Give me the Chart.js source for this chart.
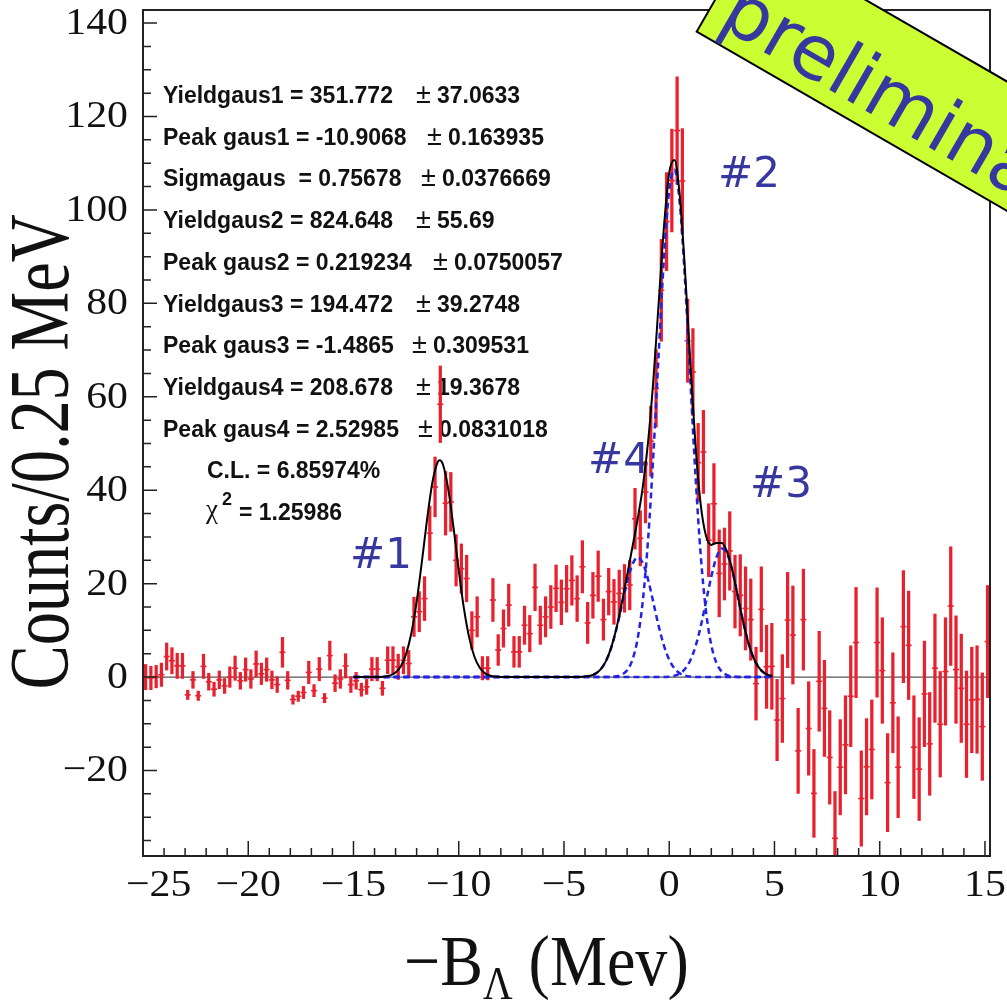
<!DOCTYPE html>
<html>
<head>
<meta charset="utf-8">
<script src="https://cdn.jsdelivr.net/npm/chart.js@4.4.1/dist/chart.umd.min.js"></script>
<style>
  body { margin: 0; background: #fff; }
  canvas { display: block; }
</style>
</head>
<body>
<canvas id="spectrum" width="1007" height="1005"></canvas>
<script>
// histogram bins (MeV), counts per 0.25 MeV and their errors
const binCenters = [
  -24.875, -24.625, -24.375, -24.125, -23.875, -23.625, -23.375, -23.125, -22.875, -22.625,
  -22.375, -22.125, -21.875, -21.625, -21.375, -21.125, -20.875, -20.625, -20.375, -20.125,
  -19.875, -19.625, -19.375, -19.125, -18.875, -18.625, -18.375, -18.125, -17.875, -17.625,
  -17.375, -17.125, -16.875, -16.625, -16.375, -16.125, -15.875, -15.625, -15.375, -15.125,
  -14.875, -14.625, -14.375, -14.125, -13.875, -13.625, -13.375, -13.125, -12.875, -12.625,
  -12.375, -12.125, -11.875, -11.625, -11.375, -11.125, -10.875, -10.625, -10.375, -10.125,
  -9.875, -9.625, -9.375, -9.125, -8.875, -8.625, -8.375, -8.125, -7.875, -7.625,
  -7.375, -7.125, -6.875, -6.625, -6.375, -6.125, -5.875, -5.625, -5.375, -5.125,
  -4.875, -4.625, -4.375, -4.125, -3.875, -3.625, -3.375, -3.125, -2.875, -2.625,
  -2.375, -2.125, -1.875, -1.625, -1.375, -1.125, -0.875, -0.625, -0.375, -0.125,
  0.125, 0.375, 0.625, 0.875, 1.125, 1.375, 1.625, 1.875, 2.125, 2.375,
  2.625, 2.875, 3.125, 3.375, 3.625, 3.875, 4.125, 4.375, 4.625, 4.875,
  5.125, 5.375, 5.625, 5.875, 6.125, 6.375, 6.625, 6.875, 7.125, 7.375,
  7.625, 7.875, 8.125, 8.375, 8.625, 8.875, 9.125, 9.375, 9.625, 9.875,
  10.125, 10.375, 10.625, 10.875, 11.125, 11.375, 11.625, 11.875, 12.125, 12.375,
  12.625, 12.875, 13.125, 13.375, 13.625, 13.875, 14.125, 14.375, 14.625, 14.875,
  15.125
];
const counts = [
  0.0, -0.2, 0.1, 0.5, 4.4, 3.5, 2.4, 2.4, -3.8, -0.6,
  -4.0, 2.3, -1.0, -2.6, -0.6, -1.9, 0.0, 1.9, -0.8, 1.6,
  -0.4, 2.8, 0.7, 1.6, -0.6, -1.6, 5.3, -0.7, -4.8, -4.1,
  -3.3, 1.0, -2.9, 1.7, -4.5, 4.6, -1.3, -0.4, 2.4, -1.6,
  -0.8, -2.7, -2.1, 1.7, 1.7, -2.4, 3.6, 3.6, 2.2, 3.6,
  2.9, 12.9, 14.0, 16.8, 30.8, 40.7, 58.4, 37.2, 37.5, 25.0,
  23.2, 21.1, 10.0, 12.9, 1.9, 1.9, 16.5, 5.8, 10.4, 15.4,
  5.4, 5.4, 11.1, 9.3, 19.2, 11.1, 12.9, 15.0, 19.0, 16.0,
  18.9, 20.7, 16.8, 23.6, 11.6, 17.5, 21.6, 12.3, 18.3, 16.1,
  17.9, 19.0, 19.7, 33.9, 29.7, 39.6, 50.5, 61.8, 82.8, 97.5,
  106.3, 117.0, 106.2, 72.0, 65.3, 45.9, 48.2, 29.3, 37.1, 22.2,
  24.2, 27.0, 18.3, 17.5, 14.7, 12.3, -1.4, 14.5, 2.2, 2.3,
  -9.2, -4.6, 12.2, 9.0, -15.8, 12.3, -11.0, -24.9, -0.9, -6.7,
  -17.2, -34.5, -19.3, -14.5, -4.1, 7.4, -26.0, -19.2, -15.5, 7.4,
  1.4, -22.6, -5.5, -19.3, 10.8, 6.8, -15.0, -19.7, -3.6, -14.3,
  1.9, -10.1, 1.2, 15.2, 1.6, -2.4, -10.1, -4.9, -4.8, -10.6,
  7.6
];
const errors = [
  2.7, 2.5, 2.4, 2.5, 2.9, 2.8, 2.7, 2.7, 1.0, 1.8,
  1.0, 2.6, 1.8, 1.5, 1.9, 1.6, 2.2, 2.6, 1.8, 2.5,
  2.0, 2.8, 2.3, 2.5, 1.9, 1.7, 3.2, 1.9, 1.0, 1.1,
  1.3, 2.4, 1.3, 2.5, 1.0, 3.1, 1.8, 2.0, 2.6, 1.7,
  1.8, 1.4, 1.6, 2.5, 2.5, 1.5, 2.9, 2.9, 2.7, 2.9,
  2.8, 4.2, 4.3, 4.7, 5.8, 6.4, 8.2, 6.8, 6.3, 5.5,
  5.3, 5.0, 4.0, 4.3, 2.5, 2.5, 4.6, 3.3, 4.0, 4.5,
  3.3, 3.3, 4.1, 3.9, 5.0, 4.1, 4.3, 4.6, 5.0, 4.8,
  5.0, 5.3, 4.9, 5.6, 4.4, 4.9, 5.4, 4.4, 5.0, 4.8,
  5.0, 5.1, 5.3, 6.5, 5.9, 6.6, 7.5, 8.3, 10.9, 10.5,
  11.0, 11.5, 11.2, 8.9, 9.3, 8.4, 8.9, 7.8, 8.6, 9.3,
  7.7, 8.4, 7.8, 8.7, 8.9, 8.7, 7.8, 9.1, 8.9, 9.2,
  8.7, 9.4, 10.2, 10.5, 9.1, 10.8, 10.0, 9.4, 10.7, 10.3,
  10.0, 10.0, 10.2, 10.5, 10.8, 11.8, 10.2, 10.3, 10.6, 11.7,
  11.3, 10.5, 10.7, 10.8, 12.0, 11.6, 11.0, 11.0, 11.3, 11.0,
  11.6, 11.3, 11.5, 12.7, 11.5, 11.6, 11.4, 11.3, 11.5, 11.5,
  12.0
];

// fitted curve (total)
const totalX = [
  -15, -14, -13.5, -13.25, -13, -12.75, -12.5, -12.25, -12, -11.75,
  -11.5, -11.25, -11, -10.9, -10.75, -10.5, -10.25, -10, -9.75, -9.5,
  -9.25, -9, -8.75, -8.5, -8.25, -8, -6, -4.5, -4.25, -4,
  -3.75, -3.5, -3.25, -3, -2.75, -2.5, -2.25, -2, -1.75, -1.5,
  -1.25, -1, -0.75, -0.5, -0.25, 0, 0.25, 0.5, 0.75, 1,
  1.25, 1.5, 1.75, 2, 2.25, 2.5, 2.75, 3, 3.25, 3.5,
  3.75, 4, 4.25, 4.5, 4.75, 4.9
];
const totalFit = [
  0, 0, 0.13, 0.37, 0.99, 2.34, 4.97, 9.45, 16.1, 24.7,
  33.9, 41.7, 46.0, 46.4, 45.5, 40.3, 32.1, 22.9, 14.6, 8.4,
  4.3, 2.0, 0.8, 0.3, 0.1, 0.03, 0, 0.01, 0.04, 0.10,
  0.29, 0.74, 1.70, 3.48, 6.41, 10.62, 15.93, 21.83, 27.78, 33.84,
  40.9, 50.5, 63.8, 80.1, 96.4, 108.0, 110.7, 103.1, 87.1, 67.5,
  49.6, 36.8, 30.2, 28.3, 28.7, 28.7, 26.8, 22.8, 17.5, 12.1,
  7.5, 4.17, 2.08, 0.93, 0.37, 0.17
];

// the three component gaussians of the right-hand group (dashed)
const compX = [
  -15, -10, -6, -4.5, -4.25, -4, -3.75, -3.5, -3.25, -3,
  -2.75, -2.5, -2.25, -2, -1.75, -1.5, -1.25, -1, -0.75, -0.5,
  -0.25, 0, 0.25, 0.5, 0.75, 1, 1.25, 1.5, 1.75, 2,
  2.25, 2.5, 2.75, 3, 3.25, 3.5, 3.75, 4, 4.25, 4.5,
  4.75, 4.9
];
const gaus2 = [
  0, 0, 0, 0, 0, 0, 0, 0, 0, 0.01,
  0.05, 0.17, 0.53, 1.48, 3.68, 8.24, 16.5, 29.7, 47.9, 69.2,
  89.7, 104.2, 108.6, 101.5, 85.0, 63.8, 43.0, 25.9, 14.0, 6.82,
  2.97, 1.16, 0.41, 0.13, 0.04, 0.01, 0, 0, 0, 0,
  0, 0
];
const gaus3 = [
  0, 0, 0, 0.01, 0.04, 0.10, 0.29, 0.74, 1.70, 3.47,
  6.36, 10.45, 15.4, 20.35, 24.1, 25.6, 24.4, 20.8, 15.9, 10.9,
  6.73, 3.71, 1.84, 0.82, 0.32, 0.12, 0.04, 0.01, 0, 0,
  0, 0, 0, 0, 0, 0, 0, 0, 0, 0,
  0, 0
];
const gaus4 = [
  0, 0, 0, 0, 0, 0, 0, 0, 0, 0,
  0, 0, 0, 0, 0, 0, 0, 0, 0, 0,
  0, 0.10, 0.29, 0.75, 1.73, 3.56, 6.58, 10.9, 16.2, 21.5,
  25.7, 27.5, 26.4, 22.7, 17.5, 12.1, 7.5, 4.17, 2.08, 0.93,
  0.37, 0.17
];

const xTicks = [-25, -20, -15, -10, -5, 0, 5, 10, 15];
const yTicks = [-20, 0, 20, 40, 60, 80, 100, 120, 140];

const fitParams = [
  ['Yieldgaus1 = 351.772', '37.0633'],
  ['Peak gaus1 = -10.9068', '0.163935'],
  ['Sigmagaus  = 0.75678', '0.0376669'],
  ['Yieldgaus2 = 824.648', '55.69'],
  ['Peak gaus2 = 0.219234', '0.0750057'],
  ['Yieldgaus3 = 194.472', '39.2748'],
  ['Peak gaus3 = -1.4865', '0.309531'],
  ['Yieldgaus4 = 208.678', '19.3678'],
  ['Peak gaus4 = 2.52985', '0.0831018']
];
const confLevel = 'C.L. = 6.85974%';
const chi2 = '= 1.25986';
const peakNames = ['#1', '#2', '#3', '#4'];

// layout of the annotations (pixels)
const pmX = [416, 427, 421, 416, 433, 416, 412, 416, 418];
const peakNamePos = [[350, 568], [718, 187], [750, 497], [588, 473]];

const RED = '#e8212f';
const BLUE = 'rgb(35,35,230)';
const INK = 'rgb(55,55,160)';

function pts(xs, ys) {
  return xs.map((x, i) => ({ x: x, y: ys[i] }));
}

function minusLabel(v) {
  return v < 0 ? '\u2212' + Math.abs(v) : String(v);
}

const rootStyle = {
  id: 'rootStyle',
  beforeDraw(chart) {
    const ctx = chart.ctx;
    ctx.save();
    ctx.fillStyle = '#fff';
    ctx.fillRect(0, 0, chart.width, chart.height);
    ctx.restore();
  },
  beforeDatasetsDraw(chart) {
    const ctx = chart.ctx;
    const area = chart.chartArea;
    const y = chart.scales.y;
    ctx.save();
    // zero line
    ctx.strokeStyle = '#555';
    ctx.lineWidth = 1.3;
    ctx.beginPath();
    ctx.moveTo(area.left, y.getPixelForValue(0));
    ctx.lineTo(area.right, y.getPixelForValue(0));
    ctx.stroke();

    // fit results
    ctx.fillStyle = '#111';
    ctx.textAlign = 'left';
    ctx.textBaseline = 'alphabetic';
    fitParams.forEach((p, i) => {
      const base = 103 + i * 41.7;
      ctx.font = 'bold 23px "Liberation Sans"';
      ctx.fillText(p[0], 163, base);
      ctx.font = '27px "Liberation Sans"';
      ctx.fillText('\u00b1', pmX[i], base);
      ctx.font = 'bold 23px "Liberation Sans"';
      ctx.fillText(p[1], pmX[i] + 21, base);
    });
    ctx.font = 'bold 23px "Liberation Sans"';
    ctx.fillText(confLevel, 207, 478);
    ctx.font = '27px "Liberation Serif"';
    ctx.fillText('\u03c7', 206, 518);
    ctx.font = 'bold 18px "Liberation Sans"';
    ctx.fillText('2', 222, 505);
    ctx.font = 'bold 23px "Liberation Sans"';
    ctx.fillText(chi2, 239, 520);

    // peak names
    ctx.fillStyle = INK;
    ctx.font = '42px "DejaVu Sans"';
    peakNames.forEach((n, i) => {
      ctx.fillText(n, peakNamePos[i][0], peakNamePos[i][1]);
    });
    ctx.restore();
  },
  afterDatasetsDraw(chart) {
    const ctx = chart.ctx;
    const area = chart.chartArea;
    const xs = chart.scales.x;
    const ys = chart.scales.y;
    ctx.save();

    // frame
    ctx.strokeStyle = '#222';
    ctx.lineWidth = 2;
    ctx.strokeRect(area.left, area.top, area.right - area.left, area.bottom - area.top);

    // ticks inside the frame
    ctx.lineWidth = 1.5;
    ctx.beginPath();
    for (let v = -25; v <= 15; v += 1) {
      const px = xs.getPixelForValue(v);
      const len = v % 5 === 0 ? 15 : 8;
      ctx.moveTo(px, area.bottom);
      ctx.lineTo(px, area.bottom - len);
    }
    for (let v = -35; v <= 140; v += 5) {
      const py = ys.getPixelForValue(v);
      const len = v % 20 === 0 ? 14 : 8;
      ctx.moveTo(area.left, py);
      ctx.lineTo(area.left + len, py);
    }
    ctx.stroke();

    // tick labels
    ctx.fillStyle = '#111';
    ctx.font = '38px "Liberation Serif"';
    ctx.textBaseline = 'middle';
    ys.ticks.forEach(t => {
      ctx.save();
      ctx.translate(128, ys.getPixelForValue(t.value) + 1);
      ctx.scale(1.1, 1);
      ctx.textAlign = 'right';
      ctx.fillText(minusLabel(t.value), 0, 0);
      ctx.restore();
    });
    xs.ticks.forEach(t => {
      const label = minusLabel(t.value);
      const w = ctx.measureText(label).width * 1.1;
      let px = xs.getPixelForValue(t.value);
      px = Math.max(px, 126 + w / 2);
      ctx.save();
      ctx.translate(px, 886);
      ctx.scale(1.1, 1);
      ctx.textAlign = 'center';
      ctx.fillText(label, 0, 0);
      ctx.restore();
    });

    // axis titles
    ctx.textBaseline = 'alphabetic';
    ctx.save();
    ctx.translate(68, 452);
    ctx.rotate(-Math.PI / 2);
    ctx.scale(0.78, 1);
    ctx.textAlign = 'center';
    ctx.font = '85px "Liberation Serif"';
    ctx.fillText('Counts/0.25 MeV', 0, 0);
    ctx.restore();

    ctx.save();
    ctx.translate(404, 985);
    ctx.scale(0.89, 1);
    ctx.textAlign = 'left';
    ctx.font = '72px "Liberation Serif"';
    ctx.fillText('\u2212B', 0, 0);
    let off = ctx.measureText('\u2212B').width;
    ctx.font = '46px "Liberation Serif"';
    ctx.fillText('\u039b', off, 14);
    off += ctx.measureText('\u039b').width;
    ctx.font = '72px "Liberation Serif"';
    ctx.fillText(' (Mev)', off, 0);
    ctx.restore();
    ctx.restore();
  },
  afterDraw(chart) {
    const ctx = chart.ctx;
    ctx.save();
    ctx.translate(696.7, 31.7);
    ctx.rotate(30 * Math.PI / 180);
    ctx.fillStyle = '#ccff33';
    ctx.fillRect(0, -112, 700, 112);
    ctx.strokeStyle = '#000';
    ctx.lineWidth = 2;
    ctx.strokeRect(0, -112, 700, 112);
    ctx.fillStyle = INK;
    ctx.font = '75px "DejaVu Sans"';
    ctx.textAlign = 'left';
    ctx.textBaseline = 'alphabetic';
    ctx.fillText('preliminary', 14, -16);
    ctx.restore();
  }
};

const curve = (xs, ys, color, dash, order) => ({
  type: 'line',
  data: pts(xs, ys),
  borderColor: color,
  borderWidth: dash ? 2.5 : 2,
  borderDash: dash ? [6, 4] : [],
  pointRadius: 0,
  cubicInterpolationMode: 'monotone',
  order: order
});

new Chart(document.getElementById('spectrum'), {
  type: 'scatter',
  data: {
    datasets: [
      curve(totalX, totalFit, '#000', false, 1),
      curve(compX, gaus2, BLUE, true, 2),
      curve(compX, gaus3, BLUE, true, 2),
      curve(compX, gaus4, BLUE, true, 2),
      {
        type: 'bar',
        data: binCenters.map((x, i) => ({ x: x, y: [counts[i] - errors[i], counts[i] + errors[i]] })),
        backgroundColor: RED,
        borderWidth: 0,
        barThickness: 2.6,
        order: 6
      },
      {
        type: 'scatter',
        data: pts(binCenters, counts),
        pointStyle: 'line',
        pointRadius: 3,
        borderColor: RED,
        borderWidth: 1.6,
        order: 5
      }
    ]
  },
  options: {
    responsive: false,
    animation: false,
    events: [],
    layout: { padding: { left: 0, right: 17, top: 10, bottom: 0 } },
    plugins: { legend: { display: false }, tooltip: { enabled: false } },
    scales: {
      x: {
        type: 'linear',
        min: -25,
        max: 15.24,
        offset: false,
        grid: { display: false },
        border: { display: false },
        ticks: { display: false },
        afterBuildTicks: s => { s.ticks = xTicks.map(v => ({ value: v })); },
        afterFit: s => { s.height = 149; }
      },
      y: {
        type: 'linear',
        min: -38.3,
        max: 142.8,
        grid: { display: false },
        border: { display: false },
        ticks: { display: false },
        afterBuildTicks: s => { s.ticks = yTicks.map(v => ({ value: v })); },
        afterFit: s => { s.width = 143; }
      }
    }
  },
  plugins: [rootStyle]
});
</script>
</body>
</html>
